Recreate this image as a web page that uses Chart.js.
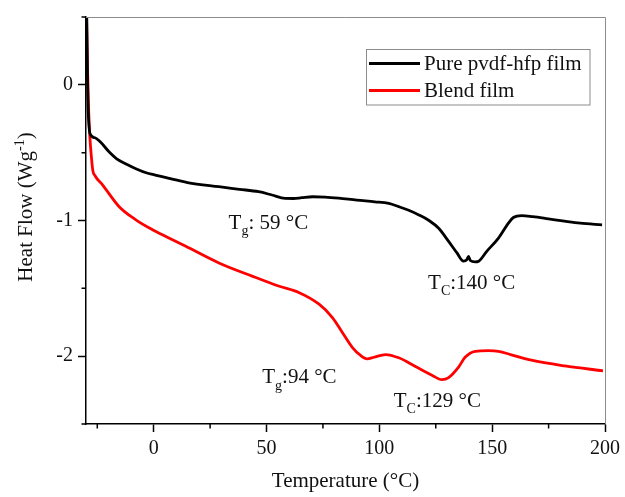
<!DOCTYPE html>
<html>
<head>
<meta charset="utf-8">
<script src="https://cdn.jsdelivr.net/npm/chart.js@4.4.1/dist/chart.umd.min.js"></script>
<style>
  html, body { margin: 0; padding: 0; background: #fff; }
  #wrap { width: 625px; height: 497px; }
</style>
</head>
<body>
<div id="wrap"><canvas id="dscChart" width="625" height="497"></canvas></div>
<script>
// DSC curves
const pureTemp = [-29.7, -29.3, -29, -28.2, -26, -23.7, -19.7, -16.4, -12, -7.9, -3, 0, 6.8, 15, 28.9, 38, 46.5, 52.4, 58.2, 62, 65.6, 70.4, 76, 82, 90, 98, 104.2, 108.6, 113, 117.5, 122, 126.3, 130.7, 134.4, 137.3, 138.8, 139.5, 140.3, 142.5, 144, 147.6, 152.8, 157.2, 159.4, 163.1, 168, 174.9, 182, 189, 198.7];
const pureHeat = [0.55, 0.0, -0.2, -0.36, -0.39, -0.42, -0.495, -0.545, -0.585, -0.618, -0.65, -0.662, -0.69, -0.72, -0.751, -0.77, -0.788, -0.812, -0.837, -0.838, -0.832, -0.825, -0.827, -0.835, -0.85, -0.862, -0.874, -0.898, -0.925, -0.959, -1.0, -1.057, -1.154, -1.239, -1.30, -1.288, -1.264, -1.295, -1.305, -1.30, -1.227, -1.13, -1.02, -0.978, -0.964, -0.972, -0.988, -1.005, -1.02, -1.032];

const blendTemp = [-29.8, -29.3, -28.8, -28.3, -27.8, -27, -26, -22.6, -15.3, -7.9, -0.55, 5.6, 14.2, 28.9, 43.6, 55.3, 64.5, 73.3, 79.2, 83.6, 88, 91.7, 94.6, 97.6, 102.7, 108.6, 116, 123.3, 127.7, 130.7, 135.1, 138, 142.5, 148.4, 152.8, 158.5, 167.4, 182.2, 199.1];
const blendHeat = [0.55, 0.1, -0.2, -0.38, -0.495, -0.629, -0.67, -0.739, -0.898, -0.995, -1.068, -1.12, -1.19, -1.313, -1.41, -1.483, -1.532, -1.617, -1.715, -1.825, -1.935, -1.995, -2.02, -2.008, -1.988, -2.012, -2.076, -2.14, -2.173, -2.158, -2.081, -2.008, -1.964, -1.959, -1.964, -1.99, -2.03, -2.072, -2.108];

const seriesNames = ['Pure pvdf-hfp film', 'Blend film'];
const xTicks = [0, 50, 100, 150, 200];
const yTicks = [-2, -1, 0];
const xMinorTicks = [-25, 25, 75, 125, 175];
const yMinorTicks = [0.5, -0.5, -1.5, -2.5];

// peak labels, anchored in data coordinates
const notes = [
  { x: 33.2, y: -1.064, parts: [['T'], ['g', 'sub'], [': 59 °C']] },
  { x: 121.6, y: -1.505, parts: [['T'], ['C', 'sub'], [':140 °C']] },
  { x: 48.1, y: -2.20, parts: [['T'], ['g', 'sub'], [':94 °C']] },
  { x: 106.4, y: -2.375, parts: [['T'], ['C', 'sub'], [':129 °C']] }
];

const SERIF = "'Liberation Serif', 'Times New Roman', serif";

function toPoints(xs, ys) {
  return xs.map((x, i) => ({ x: x, y: ys[i] }));
}

// draw a run of text with sub/superscript pieces, returns width
function richText(ctx, parts, x, y, size, measureOnly) {
  let cx = x;
  parts.forEach(p => {
    const small = p[1] === 'sub' || p[1] === 'sup';
    ctx.font = (small ? Math.round(size * 0.68) : size) + 'px ' + SERIF;
    let dy = 0;
    if (p[1] === 'sub') dy = size * 0.3;
    if (p[1] === 'sup') dy = -size * 0.38;
    if (!measureOnly) ctx.fillText(p[0], cx, y + dy);
    cx += ctx.measureText(p[0]).width;
  });
  return cx - x;
}

const extras = {
  id: 'extras',
  afterDraw(chart) {
    const ctx = chart.ctx;
    const a = chart.chartArea;
    const xs = chart.scales.x, ys = chart.scales.y;
    ctx.save();

    // top and right frame
    ctx.strokeStyle = '#8c8c8c';
    ctx.lineWidth = 1;
    ctx.beginPath();
    ctx.moveTo(a.left, a.top + 0.5);
    ctx.lineTo(a.right + 0.5, a.top + 0.5);
    ctx.lineTo(a.right + 0.5, a.bottom);
    ctx.stroke();

    // minor ticks
    ctx.strokeStyle = '#000';
    ctx.lineWidth = 1.5;
    ctx.beginPath();
    xMinorTicks.forEach(v => {
      const px = xs.getPixelForValue(v);
      ctx.moveTo(px, a.bottom);
      ctx.lineTo(px, a.bottom + 4.5);
    });
    yMinorTicks.forEach(v => {
      const py = ys.getPixelForValue(v);
      ctx.moveTo(a.left, py);
      ctx.lineTo(a.left - 4.5, py);
    });
    ctx.stroke();

    // annotations
    ctx.fillStyle = '#111';
    ctx.textBaseline = 'alphabetic';
    ctx.textAlign = 'left';
    notes.forEach(n => {
      richText(ctx, n.parts, xs.getPixelForValue(n.x), ys.getPixelForValue(n.y), 21, false);
    });

    // y axis title, rotated
    const yTitle = [['Heat Flow (Wg'], ['-1', 'sup'], [')']];
    ctx.translate(32, 207);
    ctx.rotate(-Math.PI / 2);
    const w = richText(ctx, yTitle, 0, 0, 21, true);
    richText(ctx, yTitle, -w / 2, 0, 21, false);
    ctx.setTransform(1, 0, 0, 1, 0, 0);

    // legend box inside plot
    const bx = 366.5, by = 49.5, bw = 223.5, bh = 55.5;
    ctx.strokeStyle = '#8c8c8c';
    ctx.lineWidth = 1;
    ctx.strokeRect(bx, by, bw, bh);
    ctx.font = '21px ' + SERIF;
    ctx.textBaseline = 'middle';
    chart.data.datasets.forEach((ds, i) => {
      const ly = 63.5 + i * 27;
      ctx.strokeStyle = ds.borderColor;
      ctx.lineWidth = 3;
      ctx.beginPath();
      ctx.moveTo(369, ly);
      ctx.lineTo(420, ly);
      ctx.stroke();
      ctx.fillStyle = '#111';
      ctx.fillText(ds.label, 424, ly + 1);
    });
    ctx.restore();
  }
};

new Chart(document.getElementById('dscChart').getContext('2d'), {
  type: 'line',
  data: {
    datasets: [
      {
        label: seriesNames[0],
        data: toPoints(pureTemp, pureHeat),
        borderColor: '#000000',
        borderWidth: 2.8,
        pointRadius: 0,
        cubicInterpolationMode: 'monotone'
      },
      {
        label: seriesNames[1],
        data: toPoints(blendTemp, blendHeat),
        borderColor: '#ff0000',
        borderWidth: 2.8,
        pointRadius: 0,
        cubicInterpolationMode: 'monotone'
      }
    ]
  },
  options: {
    responsive: false,
    animation: false,
    devicePixelRatio: 1,
    layout: { padding: { top: 14, right: 18, left: 0, bottom: 0 } },
    plugins: {
      legend: { display: false },
      tooltip: { enabled: false }
    },
    scales: {
      x: {
        type: 'linear',
        min: -30,
        max: 200,
        afterBuildTicks: s => { s.ticks = xTicks.map(v => ({ value: v })); },
        afterFit: s => { s.height = 73; },
        grid: { drawOnChartArea: false, tickLength: 8, color: '#000', tickWidth: 1.5 },
        border: { display: true, color: '#000', width: 1.5 },
        ticks: { color: '#111', padding: 5, maxRotation: 0, font: { family: SERIF, size: 20 } },
        title: {
          display: true,
          text: 'Temperature (°C)',
          color: '#111',
          font: { family: SERIF, size: 21 },
          padding: { top: 0, bottom: 3 }
        }
      },
      y: {
        type: 'linear',
        min: -2.5,
        max: 0.5,
        afterBuildTicks: s => { s.ticks = yTicks.map(v => ({ value: v })); },
        afterFit: s => { s.width = 86; },
        grid: { drawOnChartArea: false, tickLength: 8, color: '#000', tickWidth: 1.5 },
        border: { display: true, color: '#000', width: 1.5 },
        ticks: { color: '#111', padding: 5, font: { family: SERIF, size: 20 } }
      }
    }
  },
  plugins: [extras]
});
</script>
</body>
</html>
